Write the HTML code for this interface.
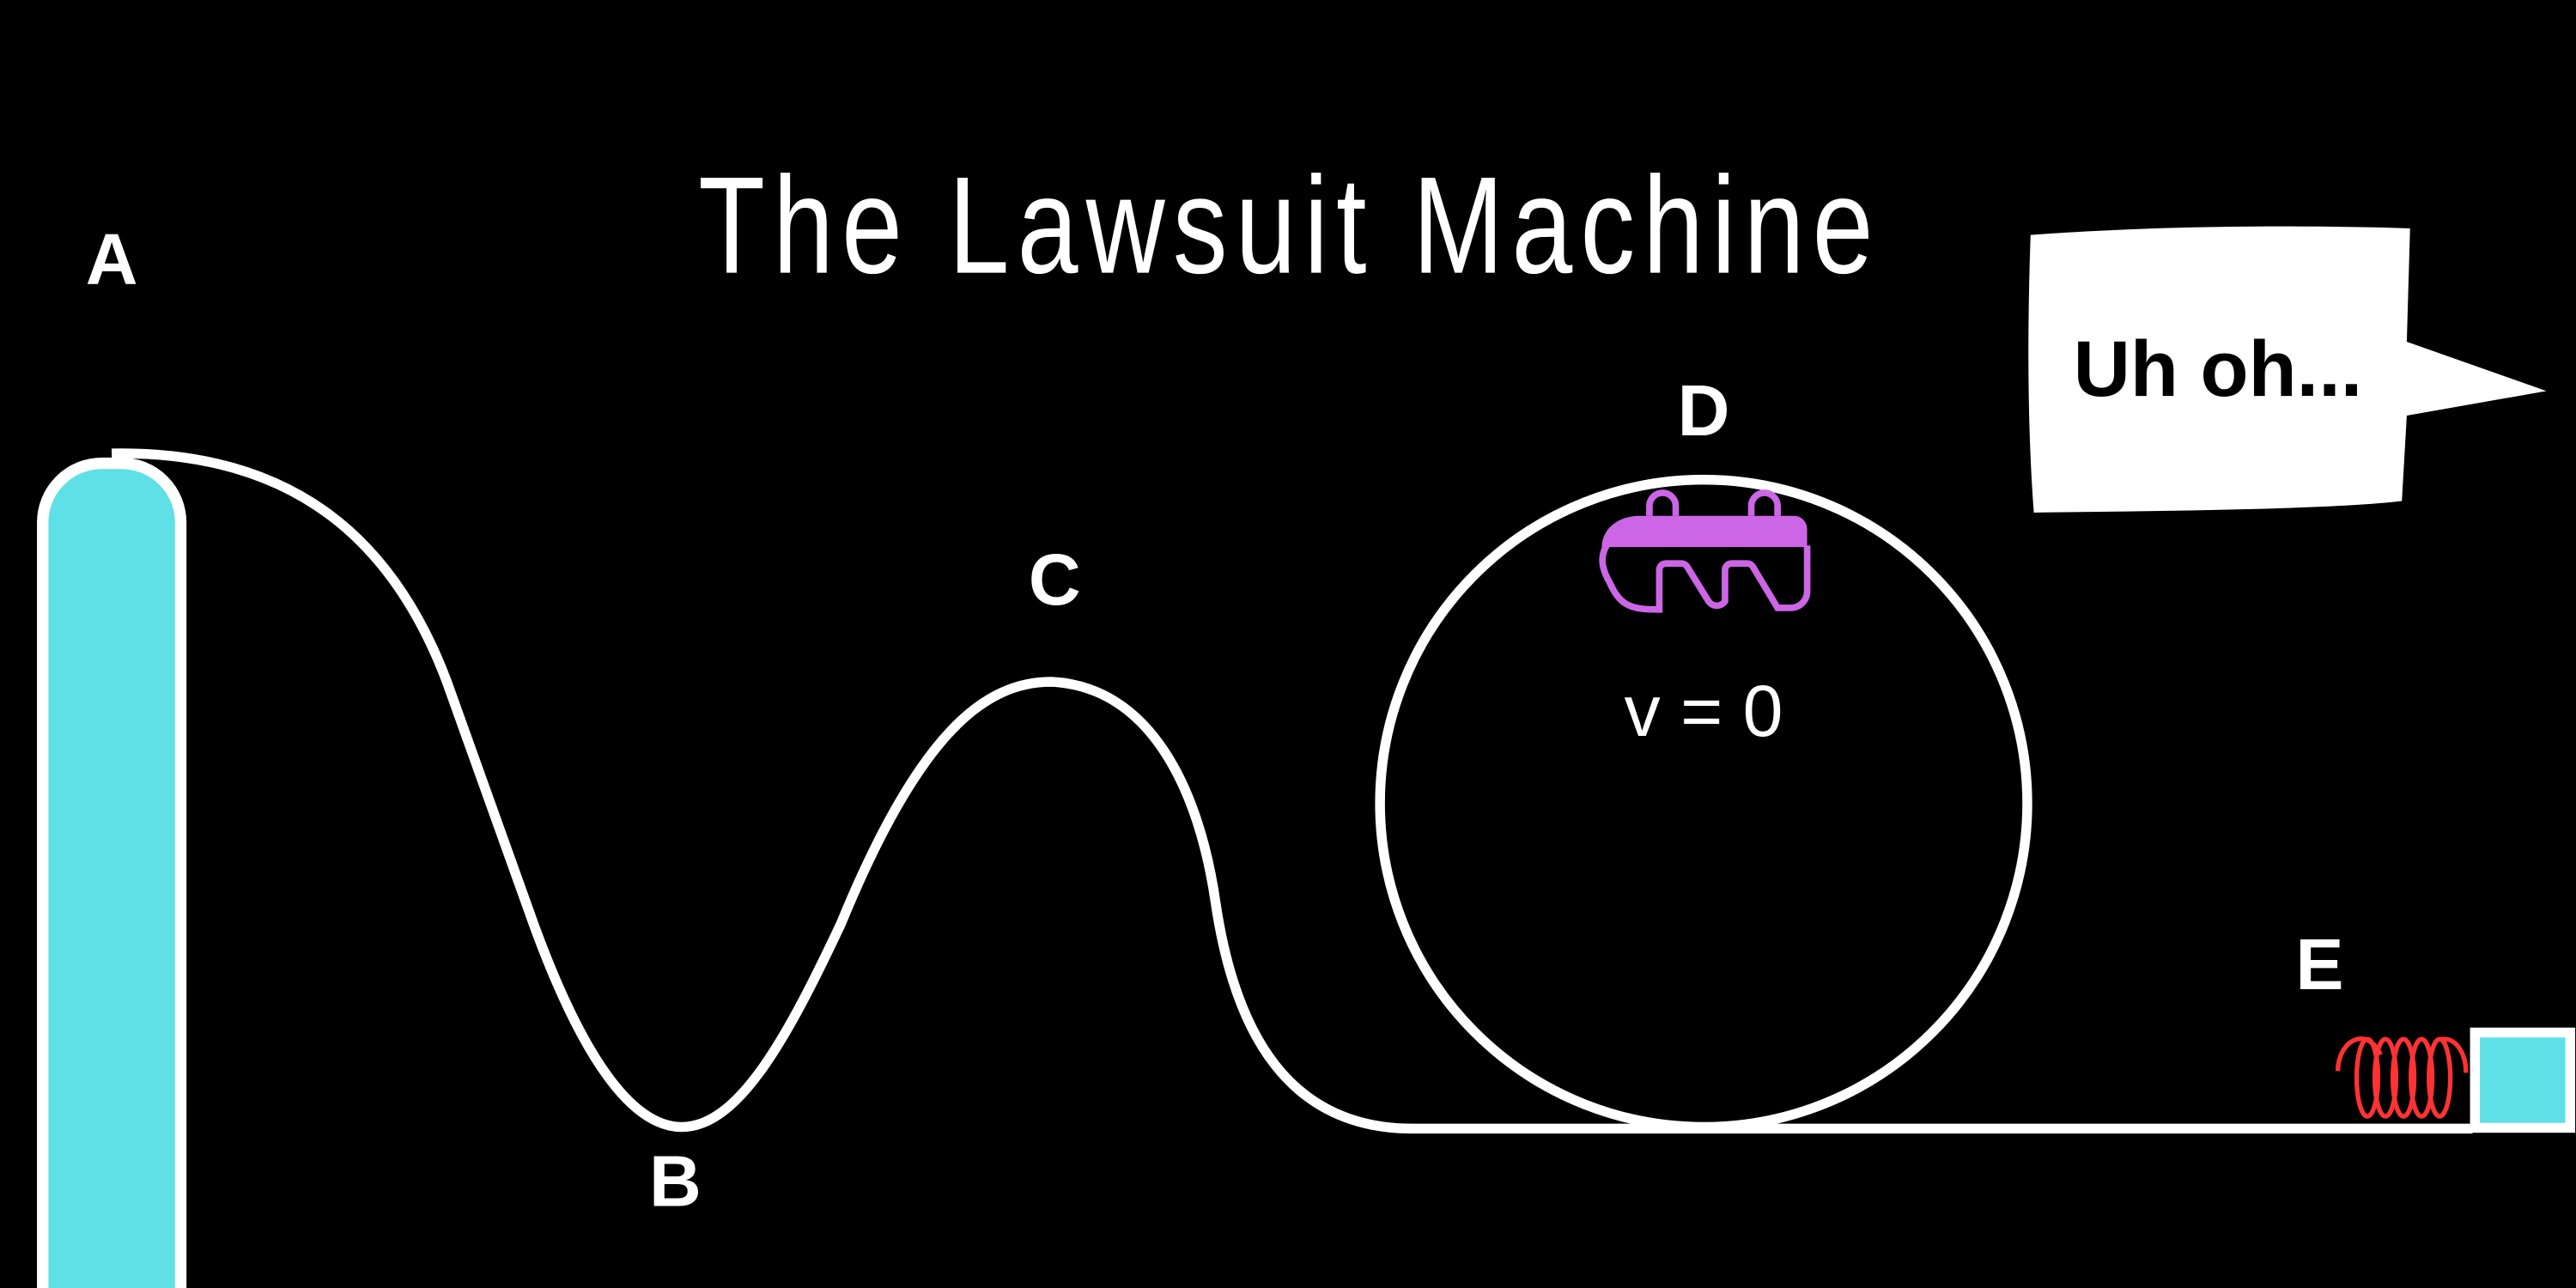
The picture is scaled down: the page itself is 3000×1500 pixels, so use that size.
<!DOCTYPE html>
<html><head><style>
html,body{margin:0;padding:0;background:#000;width:3000px;height:1500px;overflow:hidden}
svg{display:block}
text{font-family:"Liberation Sans",sans-serif;fill:#fff}
</style></head><body>
<svg width="3000" height="1500" viewBox="0 0 1568 784" xmlns="http://www.w3.org/2000/svg">
<rect width="1568" height="784" fill="#000"/>
<text x="785" y="166" font-size="84" text-anchor="middle" letter-spacing="6" textLength="720" lengthAdjust="spacingAndGlyphs" style="font-family:'Liberation Sans Narrow','Liberation Sans',sans-serif">The Lawsuit Machine</text>
<text x="68" y="173" font-size="44" font-weight="bold" text-anchor="middle">A</text>
<text x="642" y="368" font-size="44" font-weight="bold" text-anchor="middle">C</text>
<text x="1037" y="265" font-size="44" font-weight="bold" text-anchor="middle">D</text>
<text x="411" y="734" font-size="44" font-weight="bold" text-anchor="middle">B</text>
<text x="1412" y="602" font-size="44" font-weight="bold" text-anchor="middle">E</text>
<path d="M26,790 L26,318 A36,36 0 0 1 62,282 L74,282 A36,36 0 0 1 110,318 L110,790 Z" fill="#5ee0e6" stroke="#fff" stroke-width="7"/>
<path d="M68,276 C180,274 240,330 272,415 L325,563 C355,645 385,686 415,686 C450,686 480,630 512,562 C560,445 600,415 640,415 C700,418 730,480 740,550 C752,630 785,687 860,687 L1505,687" fill="none" stroke="#fff" stroke-width="6"/>
<circle cx="1037" cy="489" r="197" fill="none" stroke="#fff" stroke-width="6"/>
<g fill="none" stroke="#cc66e6" stroke-width="4">
<path d="M1004,314 v-6 a8,8 0 0 1 16,0 v6"/>
<path d="M1066,314 v-6 a8,8 0 0 1 16,0 v6"/>
<path d="M978,332 C973,340 976,348 980,355 C986,368 992,371 1008,371 L1010,371 V347 a4,4 0 0 1 4,-4 h9 a4,4 0 0 1 4,2 L1040,366 a6,6 0 0 0 10,0 V347 a4,4 0 0 1 4,-4 h9 a4,4 0 0 1 4,2 L1082,370 H1090 a10,10 0 0 0 10,-10 V332"/>
</g>
<path d="M975,333 C975,322 985,314 998,314 H1092 a8,8 0 0 1 8,8 V333 Z" fill="#cc66e6"/>
<text x="1037" y="448" font-size="44" text-anchor="middle" font-weight="300">v = 0</text>
<path d="M1236,143 C1320,137 1400,137 1467,139 L1465,208 L1550,238 L1465,253 L1462,305 C1420,310 1320,311 1238,312 C1234,260 1234,200 1236,143 Z" fill="#fff"/>
<text x="1350" y="241" font-size="48" font-weight="bold" text-anchor="middle" style="fill:#000">Uh oh...</text>
<g fill="none" stroke="#ff3333" stroke-width="2.8">
<path d="M1423,652 a14,20 0 0 1 26,-10"/>
<ellipse cx="1441" cy="656" rx="6.5" ry="23.5"/>
<ellipse cx="1452" cy="656" rx="6.5" ry="23.5"/>
<ellipse cx="1463" cy="656" rx="6.5" ry="23.5"/>
<ellipse cx="1474" cy="656" rx="6.5" ry="23.5"/>
<ellipse cx="1485" cy="656" rx="6.5" ry="23.5"/>
<path d="M1485,633 a13,20 0 0 1 16,20"/>
</g>
<rect x="1506.5" y="628.5" width="58" height="58" fill="#5ee0e6" stroke="#fff" stroke-width="6"/>
</svg>
</body></html>
